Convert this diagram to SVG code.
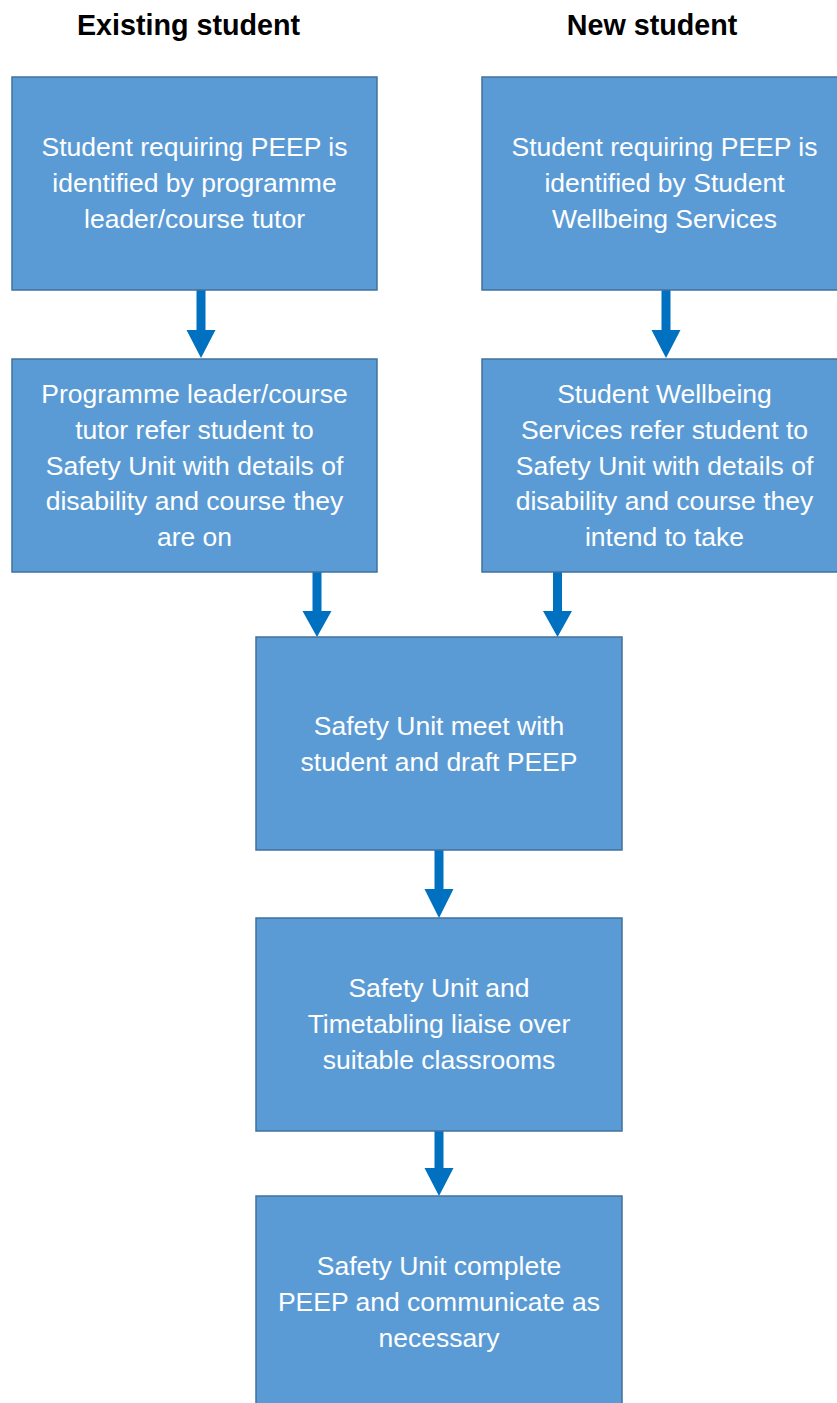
<svg xmlns="http://www.w3.org/2000/svg" width="837" height="1403" viewBox="0 0 837 1403">
<style>
.box{fill:#5b9bd5;stroke:#41719c;stroke-width:1.5}
.t{font-family:"Liberation Sans",Arial,sans-serif;font-size:26.5px;fill:#ffffff;text-anchor:middle}
.h{font-family:"Liberation Sans",Arial,sans-serif;font-size:28.7px;font-weight:bold;fill:#000;text-anchor:middle}
.arr{fill:#0070c0}
</style>
<rect width="837" height="1403" fill="#ffffff"/>
<g id="headers">
<text class="h" x="188.5" y="35">Existing student</text>
<text class="h" x="652" y="35">New student</text>
</g>
<g id="connectors">
<path class="arr" d="M196.5,290 H205.5 V330 H215.5 L201,358 L186.5,330 H196.5 Z"/>
<path class="arr" d="M661.5,290 H670.5 V330 H680.5 L666,358 L651.5,330 H661.5 Z"/>
<path class="arr" d="M312.5,572 H321.5 V611 H331.5 L317,637 L302.5,611 H312.5 Z"/>
<path class="arr" d="M553,572 H562 V611 H572 L557.5,637 L543,611 H553 Z"/>
<path class="arr" d="M434.5,850 H443.5 V889 H453.5 L439,918 L424.5,889 H434.5 Z"/>
<path class="arr" d="M434.5,1131 H443.5 V1168 H453.5 L439,1196 L424.5,1168 H434.5 Z"/>
</g>
<g id="n1">
<rect class="box" x="12" y="77" width="365" height="213"/>
<text class="t" x="194.5" y="156">Student requiring PEEP is</text>
<text class="t" x="194.5" y="192">identified by programme</text>
<text class="t" x="194.5" y="228">leader/course tutor</text>
</g>
<g id="n2">
<rect class="box" x="482" y="77" width="365" height="213"/>
<text class="t" x="664.5" y="156">Student requiring PEEP is</text>
<text class="t" x="664.5" y="192">identified by Student</text>
<text class="t" x="664.5" y="228">Wellbeing Services</text>
</g>
<g id="n3">
<rect class="box" x="12" y="359" width="365" height="213"/>
<text class="t" x="194.5" y="403">Programme leader/course</text>
<text class="t" x="194.5" y="439">tutor refer student to</text>
<text class="t" x="194.5" y="475">Safety Unit with details of</text>
<text class="t" x="194.5" y="510">disability and course they</text>
<text class="t" x="194.5" y="546">are on</text>
</g>
<g id="n4">
<rect class="box" x="482" y="359" width="365" height="213"/>
<text class="t" x="664.5" y="403">Student Wellbeing</text>
<text class="t" x="664.5" y="439">Services refer student to</text>
<text class="t" x="664.5" y="475">Safety Unit with details of</text>
<text class="t" x="664.5" y="510">disability and course they</text>
<text class="t" x="664.5" y="546">intend to take</text>
</g>
<g id="n5">
<rect class="box" x="256" y="637" width="366" height="213"/>
<text class="t" x="439" y="735">Safety Unit meet with</text>
<text class="t" x="439" y="771">student and draft PEEP</text>
</g>
<g id="n6">
<rect class="box" x="256" y="918" width="366" height="213"/>
<text class="t" x="439" y="997">Safety Unit and</text>
<text class="t" x="439" y="1033">Timetabling liaise over</text>
<text class="t" x="439" y="1069">suitable classrooms</text>
</g>
<g id="n7">
<rect class="box" x="256" y="1196" width="366" height="213"/>
<text class="t" x="439" y="1275">Safety Unit complete</text>
<text class="t" x="439" y="1311">PEEP and communicate as</text>
<text class="t" x="439" y="1347">necessary</text>
</g>
</svg>
